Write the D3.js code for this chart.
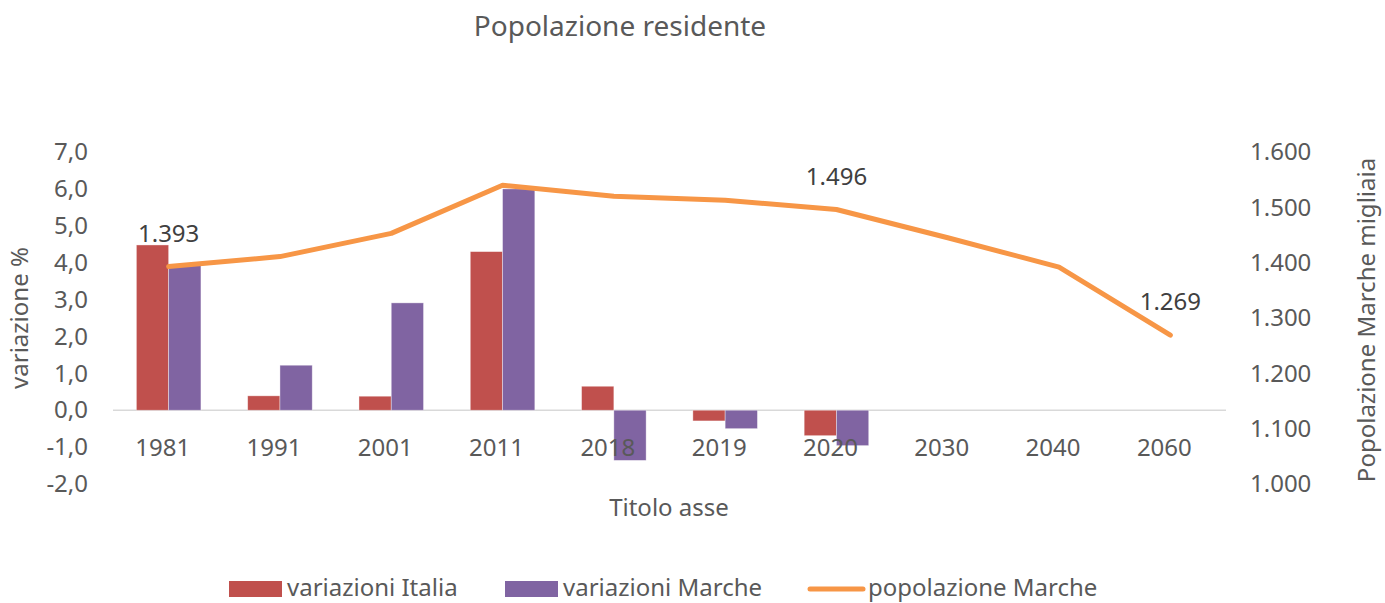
<!DOCTYPE html>
<html>
<head>
<meta charset="utf-8">
<script src="https://cdn.jsdelivr.net/npm/d3@7"></script>
<style>
  body { margin: 0; background: #fff; }
  text { font-family: "Noto Sans", "Open Sans", sans-serif; fill: #595959; }
</style>
</head>
<body>
<script>
// data
var anni = ["1981", "1991", "2001", "2011", "2018", "2019", "2020", "2030", "2040", "2060"];
var variazioniItalia = [4.48, 0.39, 0.38, 4.3, 0.65, -0.29, -0.69, null, null, null];
var variazioniMarche = [3.95, 1.22, 2.91, 6.0, -1.36, -0.5, -0.96, null, null, null];
var popolazioneMarche = [1393, 1411, 1453, 1540, 1520, 1513, 1496, 1445, 1392, 1269];
var etichetteLinea = ["1981", "2020", "2060"];
var tickSinistra = [-2, -1, 0, 1, 2, 3, 4, 5, 6, 7];
var tickDestra = [1000, 1100, 1200, 1300, 1400, 1500, 1600];

var width = 1385, height = 603;
var rosso = "#C0504D", viola = "#8064A2", arancio = "#F79646";

var it = d3.formatLocale({decimal: ",", thousands: ".", grouping: [3], currency: ["", "€"], minus: "-"});
var fmtSx = it.format(".1f"), fmtDx = it.format(",d");

var svg = d3.select("body")
    .append("svg")
    .attr("width", width)
    .attr("height", height);

// scales
var xScale = d3.scaleBand()
    .domain(anni)
    .range([113, 1226]);

var ySx = d3.scaleLinear()
    .domain([-2, 7])
    .range([484, 152]);

var yDx = d3.scaleLinear()
    .domain([1000, 1600])
    .range([484, 152]);

var barW = xScale.bandwidth() * 0.29;

// title
svg.append("text")
    .attr("x", 620).attr("y", 36)
    .attr("text-anchor", "middle")
    .style("font-size", "28px")
    .text("Popolazione residente");

// zero line
svg.append("line")
    .attr("x1", 113).attr("x2", 1226)
    .attr("y1", ySx(0)).attr("y2", ySx(0))
    .attr("stroke", "#d9d9d9")
    .attr("stroke-width", 1.5);

// bars
var serie = [
    {nome: "variazioni Italia", valori: variazioniItalia, colore: rosso, off: -1},
    {nome: "variazioni Marche", valori: variazioniMarche, colore: viola, off: 0}
];

serie.forEach(function(s) {
    svg.append("g")
        .selectAll("rect")
        .data(anni.map(function(a, i) { return {anno: a, v: s.valori[i]}; })
            .filter(function(d) { return d.v != null; }))
        .enter()
        .append("rect")
        .attr("x", function(d) { return xScale(d.anno) + xScale.bandwidth() / 2 + s.off * barW; })
        .attr("y", function(d) { return ySx(Math.max(0, d.v)); })
        .attr("width", barW)
        .attr("height", function(d) { return Math.abs(ySx(d.v) - ySx(0)); })
        .attr("fill", s.colore)
        .attr("stroke", "#ffffff")
        .attr("stroke-opacity", 0.5)
        .attr("stroke-width", 0.75);
});

// line
var lineData = anni.map(function(a, i) { return {anno: a, v: popolazioneMarche[i]}; });

var line = d3.line()
    .x(function(d) { return xScale(d.anno) + xScale.bandwidth() / 2; })
    .y(function(d) { return yDx(d.v); });

svg.append("path")
    .datum(lineData)
    .attr("d", line)
    .attr("fill", "none")
    .attr("stroke", arancio)
    .attr("stroke-width", 5)
    .attr("stroke-linejoin", "round")
    .attr("stroke-linecap", "round");

// data labels
svg.selectAll(".lbl")
    .data(lineData.filter(function(d) { return etichetteLinea.indexOf(d.anno) >= 0; }))
    .enter()
    .append("text")
    .attr("class", "lbl")
    .attr("x", function(d) { return xScale(d.anno) + xScale.bandwidth() / 2; })
    .attr("y", function(d) { return yDx(d.v) - 25; })
    .attr("text-anchor", "middle")
    .style("font-size", "24px")
    .style("fill", "#404040")
    .text(function(d) { return fmtDx(d.v); });

// axes
var xAxis = d3.axisBottom(xScale).tickSize(0).tickPadding(0);
var axSx = d3.axisLeft(ySx).tickValues(tickSinistra).tickFormat(fmtSx).tickSize(0).tickPadding(0);
var axDx = d3.axisRight(yDx).tickValues(tickDestra).tickFormat(fmtDx).tickSize(0).tickPadding(0);

var gx = svg.append("g")
    .attr("transform", "translate(-6,439)")
    .call(xAxis);

var gl = svg.append("g")
    .attr("transform", "translate(88,0)")
    .call(axSx);

var gr = svg.append("g")
    .attr("transform", "translate(1250,0)")
    .call(axDx);

[gx, gl, gr].forEach(function(g) {
    g.select(".domain").remove();
    g.selectAll("text")
        .attr("fill", "#595959")
        .style("font-size", "24px")
        .style("font-family", "'Noto Sans', 'Open Sans', sans-serif");
});

// axis titles
svg.append("text")
    .attr("x", 669).attr("y", 516)
    .attr("text-anchor", "middle")
    .style("font-size", "24px")
    .text("Titolo asse");

svg.append("text")
    .attr("transform", "translate(28,318) rotate(-90)")
    .attr("text-anchor", "middle")
    .style("font-size", "24px")
    .text("variazione %");

svg.append("text")
    .attr("transform", "translate(1375,320) rotate(-90)")
    .attr("text-anchor", "middle")
    .style("font-size", "24px")
    .text("Popolazione Marche migliaia");

// legend
var legenda = svg.append("g");
var voci = [
    {nome: "variazioni Italia", colore: rosso, tipo: "rect", x: 229},
    {nome: "variazioni Marche", colore: viola, tipo: "rect", x: 505},
    {nome: "popolazione Marche", colore: arancio, tipo: "line", x: 810}
];

voci.forEach(function(v) {
    if (v.tipo === "rect") {
        legenda.append("rect")
            .attr("x", v.x).attr("y", 581)
            .attr("width", 53).attr("height", 16)
            .attr("fill", v.colore);
    } else {
        legenda.append("line")
            .attr("x1", v.x).attr("x2", v.x + 53)
            .attr("y1", 589).attr("y2", 589)
            .attr("stroke", v.colore)
            .attr("stroke-width", 5)
            .attr("stroke-linecap", "round");
    }
    legenda.append("text")
        .attr("x", v.x + 58).attr("y", 596)
        .style("font-size", "24px")
        .text(v.nome);
});
</script>
</body>
</html>
